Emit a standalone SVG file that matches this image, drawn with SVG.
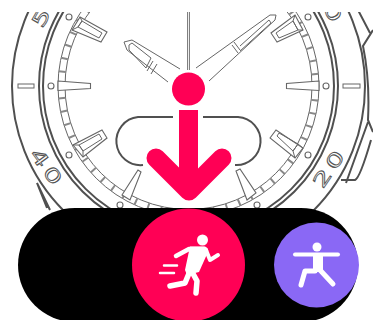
<svg xmlns="http://www.w3.org/2000/svg" width="373" height="320" viewBox="0 0 373 320">
<style>
.l{fill:none;stroke:#505050;stroke-width:2}
.t{fill:none;stroke:#666;stroke-width:1}
.w{fill:#fff;stroke:#666;stroke-width:1.1}
.n{font-family:"DejaVu Sans",sans-serif;font-size:22px;fill:#fff;stroke:#555;stroke-width:1;text-anchor:middle;letter-spacing:3px}
.ic{fill:none;stroke:#fff;stroke-linecap:round;stroke-linejoin:round}
</style>
<defs>
<clipPath id="c"><rect x="0" y="12" width="373" height="308"/></clipPath>
</defs>
<g id="watch" clip-path="url(#c)">
<circle cx="188.500" cy="86" r="176.500" class="l"/>
<path class="l" d="M358 10L370 33M373 30L363 46Q370 80 368 120L373 132M341 180H355Q360 178 371 140M346 183L368 122M50 210L37 183L47 208"/>
<circle cx="188.500" cy="86" r="149.500" class="l"/>
<circle cx="188.500" cy="86" r="145.500" class="l"/>
<circle cx="188.500" cy="86" r="130.500" class="t"/>
<circle cx="188.500" cy="86" r="123.500" class="t"/>
<circle cx="188.500" cy="86" r="127" fill="none" stroke="#888" stroke-width="7" stroke-dasharray="2 11.300"/>
<rect x="18" y="84" width="16" height="4" class="t" fill="#e4e4e4"/>
<rect x="343" y="84" width="17" height="4" class="t" fill="#e4e4e4"/>
<g class="w"><circle cx="51" cy="86" r="3"/><circle cx="326" cy="86" r="3"/><circle cx="69" cy="17" r="3"/><circle cx="308" cy="17" r="3"/><circle cx="69" cy="155" r="3"/><circle cx="308" cy="155" r="3"/><circle cx="120" cy="205" r="3"/><circle cx="257" cy="205" r="3"/></g>
<path d="M58 81L90.500 83.500V88.500L58 90.500Z" class="w" fill="#f2f2f2"/>
<path d="M319 81L286.500 83.500V88.500L319 90.500Z" class="w"/>
<path d="M72 30L80 17L107 32L101 42Z" class="w"/>
<path d="M78 27L82 21L102 33L99 38ZM72 30L78 27L82 21L80 17" class="t"/>
<path d="M277 42L271 33L295 15L303 30Z" class="w"/>
<path d="M279 38L276 33L293 21L298 30ZM303 30L298 30L293 21L295 15" class="t"/>
<path d="M73 145L83 157L107 138L102 130Z" class="w"/>
<path d="M79 145L83 151L102 139L99 134ZM73 145L79 145L83 151L83 157" class="t"/>
<path d="M270 138L276 130L303 148L295 158Z" class="w"/>
<path d="M277 136L279 133L298 144L293 151ZM303 148L298 144L293 151L295 158" class="t"/>
<path d="M122 195L138 170L141 172L130 200Z" class="w"/>
<path d="M247 200L236 171L240 169L256 193Z" class="w"/>
<text class="n" transform="translate(47.500 168) rotate(54) scale(1.300 .85) translate(0 8)">40</text>
<text class="n" transform="translate(329.500 167.500) rotate(-56) scale(1.300 .85) translate(0 8)">20</text>
<text class="n" transform="translate(47.500 6.500) rotate(-60) scale(1.300 .85) translate(0 8)">50</text>
<text class="n" transform="translate(328.500 4.500) rotate(60) scale(1.300 .85) translate(0 8)">10</text>
<path d="M180 69L132 40L124 42L127 50L168 82" class="t" stroke-width="1.300"/>
<path d="M153 61L147 71M157 64L151 74M129 45L132 43L151 58L146 68L129 50Z" class="t"/>
<path d="M196 68L270 15L276 15L275 20L209 81" class="t" stroke-width="1.300"/>
<path d="M234 42L240 50M232 45L238 53M240 46L269 20L271 23L240 51" class="t"/>
<path d="M188.500 12V70" stroke="#808080" stroke-width="3" fill="none"/>
<path d="M188.500 12V70" stroke="#eee" stroke-width="1" fill="none"/>
<path d="M173 117H138A24 24 0 0 0 143 165" class="l"/>
<path d="M203 117H238A24 24 0 0 1 235 165" class="l"/>
</g>
<g id="pill"><rect x="18" y="208" width="340" height="114" rx="57" fill="#000"/></g>
<g id="run">
<circle cx="188.500" cy="265" r="56.500" fill="#ff0055"/>
<circle cx="202.500" cy="240" r="5.500" fill="#fff"/>
<path fill="#fff" d="M190 246.500L205 246.500Q209 248 208 252L199 272L187 275L185 270Z"/>
<path class="ic" stroke-width="4.500" d="M176 256L189 249H204"/>
<path class="ic" stroke-width="4" d="M206 250L210 260L218 255"/>
<path class="ic" stroke-width="5.500" d="M190 271L185 283L170 286"/>
<path class="ic" stroke-width="5.500" d="M191 270L197 281L196 293"/>
<path class="ic" stroke-width="2.500" d="M164 265.500H177M160 273H174"/>
</g>
<g id="yoga">
<circle cx="316.500" cy="265" r="42.500" fill="#8a68f5"/>
<circle cx="317" cy="247" r="4.500" fill="#fff"/>
<path class="ic" stroke-width="4" d="M295 254.500H338"/>
<path fill="#fff" d="M313 254H323V272H313Z"/>
<path class="ic" stroke-width="5" d="M315 271H305L301 285M320 270L333 284"/>
</g>
<g id="arrow" fill="none" stroke="#ff0055" stroke-linecap="round" stroke-linejoin="round">
<path d="M188.500 110V190" stroke-width="19" stroke-linecap="butt"/>
<path d="M156 158L189 191L222 158" stroke-width="19"/>
<circle cx="188.500" cy="89" r="16.500" fill="#ff0055" stroke="none"/>
</g>
</svg>
